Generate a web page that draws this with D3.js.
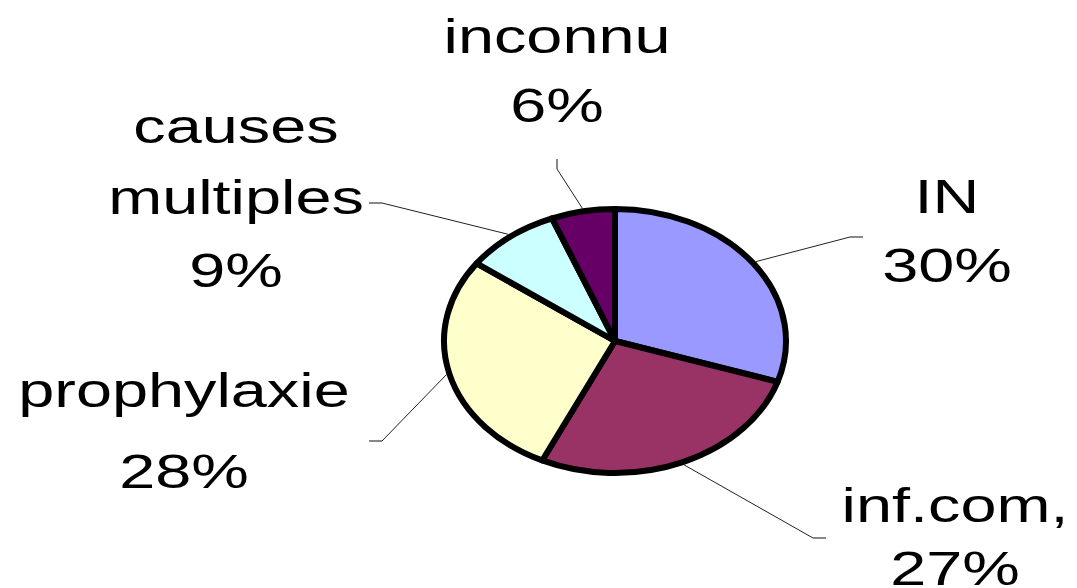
<!DOCTYPE html>
<html>
<head>
    <script src="https://d3js.org/d3.v7.min.js"></script>
    <style>
        body { margin: 0; background: #fff; }
        .slice { stroke: #000; stroke-width: 6; stroke-linejoin: round; vector-effect: non-scaling-stroke; }
        .leader { fill: none; stroke: #222; stroke-width: 1; }
        .tick-end { stroke: #888; stroke-width: 2; }
        .label { font-family: "Liberation Sans", Arial, sans-serif; font-size: 48px; fill: #000; }
    </style>
</head>
<body>
    <svg width="1077" height="588"></svg>
    <script>
        const categories = ['IN', 'inf.com,', 'prophylaxie', 'causes multiples', 'inconnu'];
        const values = [30, 27, 28, 9, 6];
        const colors = ['#9999ff', '#993366', '#ffffcc', '#ccffff', '#660066'];

        // label placement: elbow of the leader line, end of the short stub, text centre and baselines
        const layout = [
            {elbow: [850, 237], stub: [863, 237], cx: 947, lines: [213, 282]},
            {elbow: [813, 538], stub: [826, 538], cx: 955, lines: [522, 585]},
            {elbow: [382, 441], stub: [369, 441], cx: 184, lines: [407, 488]},
            {elbow: [382, 203], stub: [369, 203], cx: 236, lines: [143, 214, 287]},
            {elbow: [557, 169], stub: [557, 159], cx: 557, lines: [53, 122]}
        ];

        const cx = 615, cy = 341, rx = 171, ry = 132;
        const svg = d3.select('svg');

        const pie = d3.pie().sort(null).value(d => d.value);
        const arcs = pie(categories.map((c, i) => ({name: c, value: values[i], i: i})));

        const arc = d3.arc().innerRadius(0).outerRadius(rx);

        const g = svg.append('g')
            .attr('transform', `translate(${cx},${cy}) scale(1,${ry / rx})`);

        g.selectAll('path')
            .data(arcs)
            .enter()
            .append('path')
            .attr('class', 'slice')
            .attr('fill', d => colors[d.data.i])
            .attr('d', arc);

        // leader lines start on the ellipse edge at each slice's mid angle
        arcs.forEach(d => {
            const a = (d.startAngle + d.endAngle) / 2;
            const sx = cx + (rx + 3) * Math.sin(a);
            const sy = cy - (ry + 3) * Math.cos(a);
            const L = layout[d.data.i];
            svg.append('path')
                .attr('class', 'leader')
                .attr('d', `M${sx},${sy}L${L.elbow[0]},${L.elbow[1]}`);
            svg.append('line')
                .attr('class', 'tick-end')
                .attr('x1', L.elbow[0]).attr('y1', L.elbow[1])
                .attr('x2', L.stub[0]).attr('y2', L.stub[1]);

            const words = d.data.name === 'causes multiples'
                ? ['causes', 'multiples'] : [d.data.name];
            const texts = words.concat([d.data.value + '%']);
            const t = svg.append('text')
                .attr('class', 'label')
                .attr('text-anchor', 'middle')
                .attr('transform', `translate(${L.cx},0) scale(1.35,1)`);
            texts.forEach((s, k) => {
                t.append('tspan').attr('x', 0).attr('y', L.lines[k]).text(s);
            });
        });
    </script>
</body>
</html>
